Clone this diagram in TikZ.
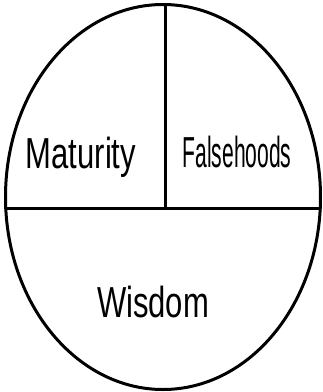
\documentclass[tikz,border=0pt]{standalone}
\usepackage{fontspec}
\setmainfont{Liberation Sans}
\usetikzlibrary{positioning}
\tikzset{
    penline/.style={line width=3pt, draw=black, line cap=round},
    handlbl/.style={font=\fontsize{31}{31}\selectfont, yscale=1.4,
                    transform shape, inner sep=0pt},
}

\begin{document}
\begin{tikzpicture}[x=1pt, y=-1pt]
        \useasboundingbox (0,0) rectangle (323,392);
        % outline
        \draw[penline] (163,197) ellipse (157.5 and 192.5);
        \coordinate (leftend) at (5.5,208);
        \coordinate (rightend) at (320.5,208);
        \coordinate (topend) at (165,4.5);
        \coordinate (midend) at (165,208);
        \draw[penline] (leftend) -- (rightend);
        \draw[penline] (topend) -- (midend);
        % labels
        \node[handlbl] (maturity) at (81,157) {Maturity};
        \node[handlbl, xscale=0.68] (falsehoods) at (237,152) {Falsehoods};
        \node[handlbl] (wisdom) at (153,302) {Wisdom};
    \end{tikzpicture}
\end{document}
